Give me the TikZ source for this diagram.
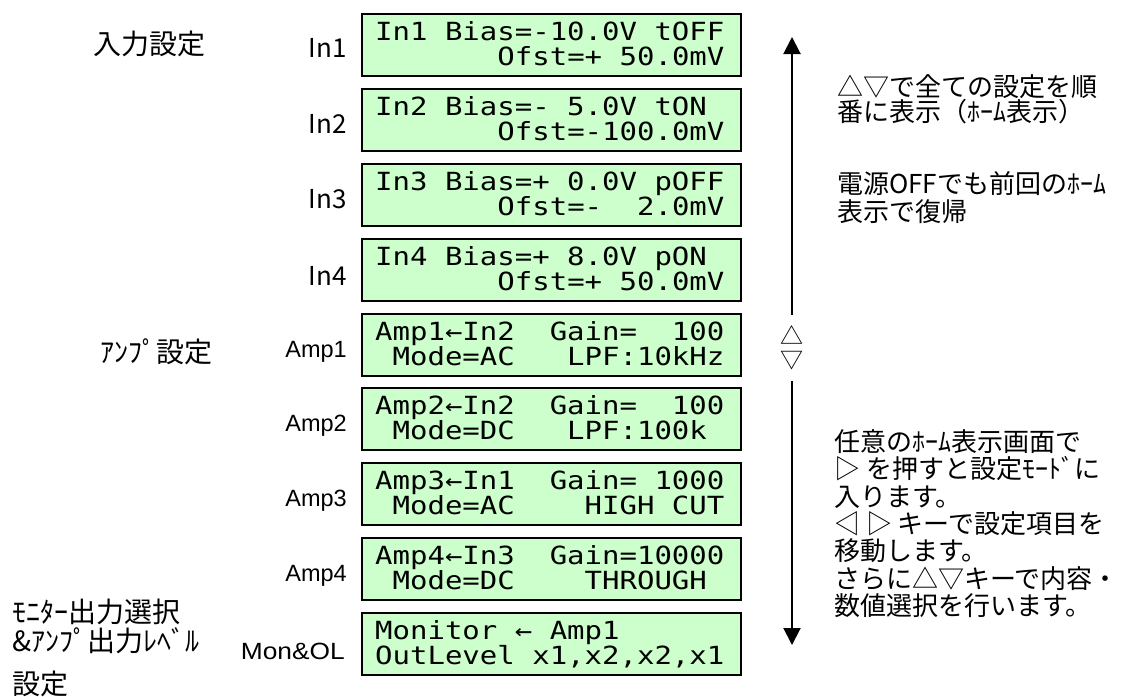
\documentclass[tikz,border=0pt]{standalone}
\usepackage{fontspec}
\setmainfont{Liberation Sans}
\newfontfamily\widesans[FakeStretch=1.12]{Liberation Sans}
\newfontfamily\jp{Noto Sans CJK JP}
\newfontfamily\lcdfont[FakeStretch=1.16]{DejaVu Sans Mono}
\usetikzlibrary{arrows.meta}
\definecolor{lcdgreen}{HTML}{CCFFCC}
\newcommand\lcdpanel[4]{%
  \node[lcdbox] (#1) at (361,#2) {};
  \node[lcdline] (#1a) at ([xshift=14pt,yshift=-27pt]#1.north west) {#3};
  \node[lcdline] (#1b) at ([xshift=14pt,yshift=-52pt]#1.north west) {#4};
}
\begin{document}
\begin{tikzpicture}[x=1pt,y=-1pt,
  lcdbox/.style={draw=black, line width=1.5pt, fill=lcdgreen, minimum width=379pt, minimum height=62pt, inner sep=0pt, anchor=north west},
  lcdline/.style={anchor=base west, inner sep=0pt, font=\lcdfont\fontsize{25}{25}\selectfont},
  inlabel/.style={anchor=base east, inner sep=0pt, font=\jp\fontsize{26}{26}\selectfont},
  amplabel/.style={anchor=base east, inner sep=0pt, font=\fontsize{23.5}{23.5}\selectfont},
  jptext/.style={anchor=west, inner sep=0pt, font=\jp\fontsize{26}{26}\selectfont},
  jplabel/.style={anchor=west, inner sep=0pt, font=\jp\fontsize{28}{28}\selectfont},
  arr/.style={line width=2pt, -{Triangle[width=17pt,length=17pt]}}]
\useasboundingbox (0,0) rectangle (1126,696);
\fill[white] (0,0) rectangle (1126,696);

\lcdpanel{in1}{13}{In1~Bias=-10.0V~tOFF}{~~~~~~~Ofst=+~50.0mV}
\lcdpanel{in2}{88}{In2~Bias=-~5.0V~tON}{~~~~~~~Ofst=-100.0mV}
\lcdpanel{in3}{163}{In3~Bias=+~0.0V~pOFF}{~~~~~~~Ofst=-~~2.0mV}
\lcdpanel{in4}{238}{In4~Bias=+~8.0V~pON}{~~~~~~~Ofst=+~50.0mV}
\lcdpanel{amp1}{313}{Amp1←In2~~Gain=~~100}{~Mode=AC~~~LPF:10kHz}
\lcdpanel{amp2}{387}{Amp2←In2~~Gain=~~100}{~Mode=DC~~~LPF:100k}
\lcdpanel{amp3}{462}{Amp3←In1~~Gain=~1000}{~Mode=AC~~~~HIGH~CUT}
\lcdpanel{amp4}{537}{Amp4←In3~~Gain=10000}{~Mode=DC~~~~THROUGH}
\lcdpanel{mon}{612}{Monitor~←~Amp1}{OutLevel~x1,x2,x2,x1}

\node[inlabel] (lin1) at ([xshift=-14pt,yshift=-44pt]in1.north west) {In1};
\node[inlabel] (lin2) at ([xshift=-14pt,yshift=-45pt]in2.north west) {In2};
\node[inlabel] (lin3) at ([xshift=-14pt,yshift=-45pt]in3.north west) {In3};
\node[inlabel] (lin4) at ([xshift=-14pt,yshift=-47pt]in4.north west) {In4};
\node[amplabel] (lamp1) at ([xshift=-14pt,yshift=-44pt]amp1.north west) {Amp1};
\node[amplabel] (lamp2) at ([xshift=-14pt,yshift=-44pt]amp2.north west) {Amp2};
\node[amplabel] (lamp3) at ([xshift=-14pt,yshift=-44pt]amp3.north west) {Amp3};
\node[amplabel] (lamp4) at ([xshift=-14pt,yshift=-44pt]amp4.north west) {Amp4};
\node[amplabel, font=\widesans\fontsize{23.5}{23.5}\selectfont] (lmon) at ([xshift=-16pt,yshift=-47pt]mon.north west) {Mon\&OL};

\node[jplabel] (gin) at (93,44) {入力設定};
\node[jplabel] (gamp) at (100,352) {ｱﾝﾌﾟ設定};
\node[jplabel] (gmon1) at (12,612) {ﾓﾆﾀｰ出力選択};
\node[jplabel] (gmon2) at (12,641) {\&ｱﾝﾌﾟ出力ﾚﾍﾞﾙ};
\node[jplabel] (gmon3) at (12,684) {設定};

\coordinate (top) at (792,37);
\coordinate (bot) at (792,645);
\node[inner sep=0pt, outer sep=11pt, align=center, font=\jp\fontsize{23}{24}\selectfont] (ud) at (792,348) {△\\▽};
\draw[arr] (ud) -- (top);
\draw[arr] (ud) -- (bot);

\node[jptext] (r1) at (837,87) {△▽で全ての設定を順};
\node[jptext] (r2) at (837,112) {番に表示（ﾎｰﾑ表示）};
\node[jptext] (r3) at (837,184) {電源OFFでも前回のﾎｰﾑ};
\node[jptext] (r4) at (837,212) {表示で復帰};

\node[jptext] (b1) at (834,442) {任意のﾎｰﾑ表示画面で};
\node[jptext] (b2) at (834,469) {▷ を押すと設定ﾓｰﾄﾞに};
\node[jptext] (b3) at (834,497) {入ります。};
\node[jptext] (b4) at (834,524) {◁ ▷ キーで設定項目を};
\node[jptext] (b5) at (834,551) {移動します。};
\node[jptext] (b6) at (834,579) {さらに△▽キーで内容・};
\node[jptext] (b7) at (834,606) {数値選択を行います。};
\end{tikzpicture}
\end{document}
